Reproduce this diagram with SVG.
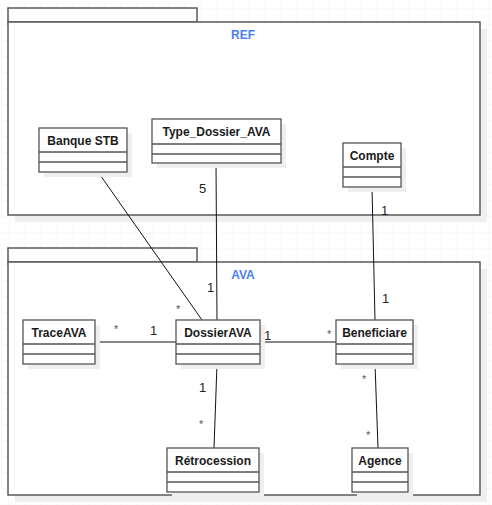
<svg xmlns="http://www.w3.org/2000/svg" width="492" height="505" viewBox="0 0 492 505">
<defs>
<pattern id="grid" x="8.5" y="8.5" width="16" height="16" patternUnits="userSpaceOnUse">
<path d="M0 0H16M0 0V16" fill="none" stroke="#f0f0f0" stroke-width="1"/>
</pattern>
<style>
.pkg{fill:#fff;stroke:#5a5a5a;stroke-width:1.5}
.shp{fill:#efefef;stroke:none}
.cls{fill:#fff;stroke:#555;stroke-width:1.3}
.sep{stroke:#555;stroke-width:1.3}
.cn{font-family:"Liberation Sans",Arial,sans-serif;font-size:12px;font-weight:bold;fill:#1a1a1a;text-anchor:middle}
.pk{font-family:"Liberation Sans",Arial,sans-serif;font-size:12px;font-weight:bold;fill:#4a7ff0;text-anchor:middle}
.m{font-family:"Liberation Sans",Arial,sans-serif;font-size:13px;fill:#222}
.s{font-family:"Liberation Sans",Arial,sans-serif;font-size:11px;fill:#555}
.ln{stroke:#111;stroke-width:1;fill:none}
</style>
</defs>
<rect width="492" height="505" fill="#fff"/>
<rect width="492" height="505" fill="url(#grid)"/>

<g id="pkg-REF">
<rect class="shp" x="15" y="29" width="472" height="193"/>
<rect class="pkg" x="8" y="8" width="189" height="14"/>
<rect class="pkg" x="8" y="22" width="472" height="193"/>
<text class="pk" x="243" y="39">REF</text>
</g>
<g id="pkg-AVA">
<rect class="shp" x="15" y="269" width="472" height="233"/>
<rect class="pkg" x="8" y="248" width="189" height="14"/>
<rect class="pkg" x="8" y="262" width="472" height="233"/>
<text class="pk" x="243" y="279">AVA</text>
</g>

<g id="connectors">
<line class="ln" x1="98" y1="172" x2="202" y2="320"/>
<line class="ln" x1="216" y1="163" x2="217" y2="320"/>
<line class="ln" x1="372" y1="187" x2="375" y2="320"/>
<line class="ln" x1="95" y1="342" x2="176" y2="342"/>
<line class="ln" x1="260" y1="342" x2="336" y2="342"/>
<line class="ln" x1="217" y1="364" x2="214" y2="448"/>
<line class="ln" x1="375" y1="364" x2="378" y2="448"/>
<text class="m" x="199" y="193">5</text>
<text class="m" x="207" y="292">1</text>
<text class="s" x="176" y="313">*</text>
<text class="m" x="381" y="215">1</text>
<text class="m" x="382" y="303">1</text>
<text class="s" x="114" y="333">*</text>
<text class="m" x="150" y="335">1</text>
<text class="m" x="264" y="340">1</text>
<text class="s" x="327" y="338">*</text>
<text class="m" x="199" y="392">1</text>
<text class="s" x="199" y="428">*</text>
<text class="s" x="362" y="383">*</text>
<text class="s" x="366" y="439">*</text>
</g>

<g id="BanqueSTB">
<rect class="shp" x="44" y="133" width="88" height="44"/>
<rect class="cls" x="39" y="128" width="88" height="44"/>
<line class="sep" x1="39" y1="152" x2="127" y2="152"/>
<line class="sep" x1="39" y1="162" x2="127" y2="162"/>
<text class="cn" x="83" y="145">Banque STB</text>
</g>
<g id="Type_Dossier_AVA">
<rect class="shp" x="157" y="124" width="129" height="44"/>
<rect class="cls" x="152" y="119" width="129" height="44"/>
<line class="sep" x1="152" y1="144" x2="281" y2="144"/>
<line class="sep" x1="152" y1="154" x2="281" y2="154"/>
<text class="cn" x="216.5" y="136">Type_Dossier_AVA</text>
</g>
<g id="Compte">
<rect class="shp" x="348" y="148" width="58" height="44"/>
<rect class="cls" x="343" y="143" width="58" height="44"/>
<line class="sep" x1="343" y1="167" x2="401" y2="167"/>
<line class="sep" x1="343" y1="177" x2="401" y2="177"/>
<text class="cn" x="372" y="160">Compte</text>
</g>
<g id="TraceAVA">
<rect class="shp" x="28" y="325" width="72" height="44"/>
<rect class="cls" x="23" y="320" width="72" height="44"/>
<line class="sep" x1="23" y1="344" x2="95" y2="344"/>
<line class="sep" x1="23" y1="354" x2="95" y2="354"/>
<text class="cn" x="59" y="337">TraceAVA</text>
</g>
<g id="DossierAVA">
<rect class="shp" x="181" y="325" width="84" height="44"/>
<rect class="cls" x="176" y="320" width="84" height="44"/>
<line class="sep" x1="176" y1="344" x2="260" y2="344"/>
<line class="sep" x1="176" y1="354" x2="260" y2="354"/>
<text class="cn" x="218" y="337">DossierAVA</text>
</g>
<g id="Beneficiare">
<rect class="shp" x="341" y="325" width="77" height="44"/>
<rect class="cls" x="336" y="320" width="77" height="44"/>
<line class="sep" x1="336" y1="344" x2="413" y2="344"/>
<line class="sep" x1="336" y1="354" x2="413" y2="354"/>
<text class="cn" x="374.5" y="337">Beneficiare</text>
</g>
<g id="Retrocession">
<rect class="shp" x="172" y="453" width="92" height="44"/>
<rect class="cls" x="167" y="448" width="92" height="44"/>
<line class="sep" x1="167" y1="472" x2="259" y2="472"/>
<line class="sep" x1="167" y1="482" x2="259" y2="482"/>
<text class="cn" x="213" y="465">Rétrocession</text>
</g>
<g id="Agence">
<rect class="shp" x="357" y="453" width="56" height="44"/>
<rect class="cls" x="352" y="448" width="56" height="44"/>
<line class="sep" x1="352" y1="472" x2="408" y2="472"/>
<line class="sep" x1="352" y1="482" x2="408" y2="482"/>
<text class="cn" x="380" y="465">Agence</text>
</g>
</svg>
